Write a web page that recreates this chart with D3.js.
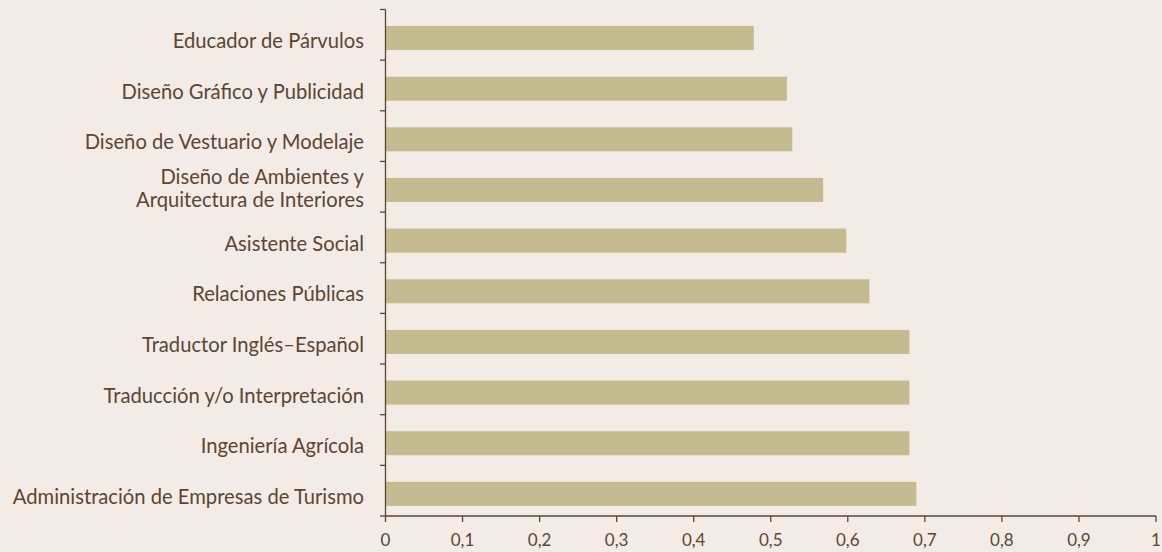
<!DOCTYPE html>
<html><head><meta charset="utf-8">
<script src="https://cdn.jsdelivr.net/npm/d3@7"></script>
<style>
html,body{margin:0;padding:0;background:#f3ebe5;}
svg{display:block;}
text{font-family:"Lato","Noto Sans",sans-serif;fill:#5a4633;}
</style></head>
<body>
<svg id="chart" width="1162" height="552"></svg>
<script>
const categories = [
  "Educador de Párvulos",
  "Diseño Gráfico y Publicidad",
  "Diseño de Vestuario y Modelaje",
  "Diseño de Ambientes y\nArquitectura de Interiores",
  "Asistente Social",
  "Relaciones Públicas",
  "Traductor Inglés–Español",
  "Traducción y/o Interpretación",
  "Ingeniería Agrícola",
  "Administración de Empresas de Turismo"
];
const values = [0.478, 0.521, 0.528, 0.568, 0.598, 0.628, 0.680, 0.680, 0.680, 0.689];
const xTicks = [0,0.1,0.2,0.3,0.4,0.5,0.6,0.7,0.8,0.9,1];
const xTickLabels = ["0","0,1","0,2","0,3","0,4","0,5","0,6","0,7","0,8","0,9","1"];

const svg = d3.select("#chart");
const mLeft = 385.5, mRight = 1156, mTop = 9.5, mBottom = 516;
const axisColor = "#5a4633";

const x = d3.scaleLinear().domain([0,1]).range([mLeft,mRight]);
const y = d3.scaleBand().domain(categories).range([mTop,mBottom]).paddingInner(0.526).paddingOuter(0.263);
const yEdges = d3.scaleLinear().domain([0,categories.length]).range([mTop,mBottom]);

svg.append("g").selectAll("rect").data(categories).join("rect")
  .attr("x", x(0))
  .attr("y", d => y(d) + 3.2)
  .attr("width", (d,i) => x(values[i]) - x(0))
  .attr("height", y.bandwidth())
  .attr("fill", "#c4bb91");

const ya = svg.append("g");
ya.append("line").attr("x1",mLeft).attr("x2",mLeft).attr("y1",mTop).attr("y2",mBottom)
  .attr("stroke",axisColor).attr("stroke-width",1.3);
ya.selectAll("line.t").data(d3.range(categories.length+1)).join("line").attr("class","t")
  .attr("x1",mLeft-5.5).attr("x2",mLeft).attr("y1",d=>yEdges(d)).attr("y2",d=>yEdges(d))
  .attr("stroke",axisColor).attr("stroke-width",1.3);

const lab = svg.append("g").selectAll("text").data(categories).join("text")
  .attr("text-anchor","end")
  .attr("font-size",20.2)
  .attr("x", mLeft - 21.5);
lab.each(function(d){
  const lines = d.split("\n");
  const t = d3.select(this);
  const lh = 22.7;
  const cy = y(d) + 3.2 + y.bandwidth()/2;
  const off = lines.length === 1 ? 10 : 5.7;
  lines.forEach((ln,i)=>{
    t.append("tspan").attr("x", mLeft-21.5)
     .attr("y", cy + off + (i - (lines.length-1)/2)*lh)
     .text(ln);
  });
});

const xa = svg.append("g");
xa.append("line").attr("x1",mLeft).attr("x2",mRight).attr("y1",mBottom).attr("y2",mBottom)
  .attr("stroke",axisColor).attr("stroke-width",1.3);
xa.selectAll("line.t").data(xTicks).join("line").attr("class","t")
  .attr("x1",d=>x(d)).attr("x2",d=>x(d)).attr("y1",mBottom).attr("y2",mBottom+6)
  .attr("stroke",axisColor).attr("stroke-width",1.3);
xa.selectAll("text").data(xTicks).join("text")
  .attr("x",d=>x(d)).attr("y",mBottom+30)
  .attr("text-anchor","middle").attr("font-size",17)
  .text((d,i)=>xTickLabels[i]);
</script>
</body></html>
